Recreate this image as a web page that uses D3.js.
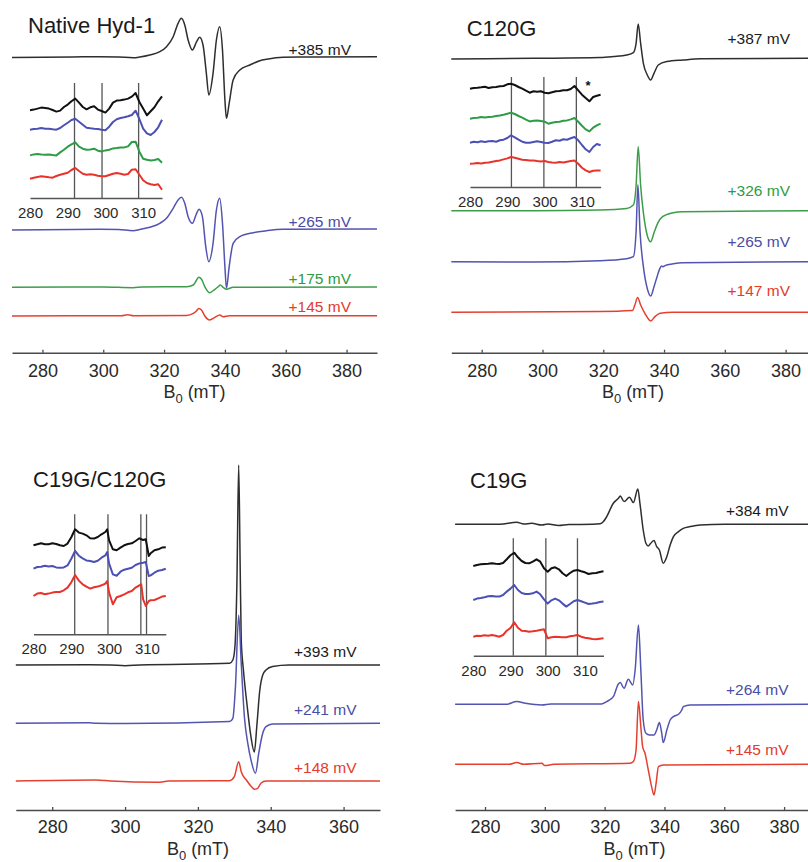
<!DOCTYPE html>
<html><head><meta charset="utf-8">
<script src="https://cdn.jsdelivr.net/npm/d3@7"></script>
<style>
body{margin:0;background:#fff}
svg{display:block}
text{font-family:"Liberation Sans",Arial,Helvetica,sans-serif}
</style>
</head><body>
<svg id="chart" width="808" height="862"></svg>
<script>
// ---------------- DATA ----------------
// Main spectra: [B0 (mT), signal (a.u.)]
const native385 = [[270,-0.5],[290,0],[298.8,0.3],[305,0],[309.8,-0.7],[312,0],[315.3,2],[318.6,5.3],[320.8,10.3],[323,20.3],[324.6,33.7],[325.7,38.7],[326.8,32],[327.9,17],[329.3,7],[330.7,15.3],[331.7,19.7],[332.8,12],[333.9,-16.3],[334.7,-38],[336.1,-16.3],[337.2,17],[338.3,30.3],[339.2,7],[340,-43],[340.5,-61.3],[341.4,-46.3],[342.7,-23],[344.9,-13],[348.2,-8],[351.5,-3.7],[353.7,-2.3],[359.1,-0.3],[370,0],[390,0.3]];
const native265 = [[270,-1],[290,-0.5],[298.8,-0.3],[305,-0.5],[309.8,-1.7],[312,-0.5],[315.3,1.7],[318.6,5.7],[320.8,10.7],[323,20.7],[324.6,29],[325.7,31.7],[326.8,25.7],[327.9,12.3],[329.3,5.7],[330.7,15.7],[331.5,19.7],[332.6,12.3],[333.7,-17.7],[334.7,-32.7],[336.1,-14.3],[337.2,19],[338.3,30.7],[339.2,5.7],[340,-37.7],[340.5,-59.3],[341.4,-37.7],[342.7,-14.3],[344.9,-7.7],[349.3,-3.7],[353.7,-1.7],[359.1,-0.3],[390,0]];
const native175 = [[270,-0.3],[300,0],[309.8,-0.7],[313,0],[327.4,0.3],[329.6,2],[330.7,7],[331.4,9.7],[332.3,7.7],[333.4,0.3],[335,-5.7],[336.7,-2.3],[337.8,0.3],[338.5,2],[339.4,-0.3],[340.5,-2.3],[342.7,-0.3],[390,0]];
const native145 = [[270,-0.3],[300,0],[306,0],[308,1],[310,0],[327.4,0.3],[329.6,2.3],[330.7,5],[331.4,7.3],[332.3,5.7],[333.4,-0.3],[335,-4.3],[336.7,-1.7],[338.3,0.7],[339.4,-1],[341.5,0],[390,0]];

const c120g387 = [[270,-0.7],[297,0],[318.9,0.7],[323.3,1.7],[327.7,3.3],[329.9,5.7],[330.8,15],[331.5,34.3],[332.3,15],[333.2,-5],[334.5,-16.7],[335.6,-21.7],[336.7,-15],[338.1,-6.7],[340.9,-3.3],[346.3,-1.7],[352,-0.5],[390,0]];
const c120g326 = [[270,0],[297,0],[318.9,0.7],[327.7,2.3],[329.9,5.7],[330.8,25],[331.5,64],[332.3,25],[333.2,-2],[334.5,-25],[335.6,-31],[336.7,-22],[337.9,-12.7],[339.5,-6],[343,-2],[346,-1],[390,0]];
const c120g265 = [[270,0],[297,-0.3],[318.9,1],[327.7,3],[329.9,5],[330.8,30],[331.4,77],[332.1,30],[333.2,-5],[334.5,-27],[335.6,-34.3],[336.7,-25],[337.7,-15],[338.5,-7.7],[339.2,-4.3],[339.6,-5],[340.5,-3.7],[342.7,-2.3],[346,-1],[390,0]];
const c120g147 = [[270,0],[318.9,0.7],[329.6,1.7],[330.4,7.3],[331.3,14.7],[332.3,7.3],[333.7,-1],[335.6,-8.7],[337,-4.3],[338.7,-1],[343,0],[390,0]];

const dbl393 = [[270,0],[290,0.3],[296,0],[300,-0.7],[304,0],[328.7,1.7],[329.6,5],[330.2,20],[330.7,80],[331.2,200],[331.6,100],[331.9,25],[332.5,-5],[333.5,-40],[334.5,-70],[335.5,-87],[336.2,-60],[337,-25],[337.8,-10],[338.7,-5],[340.5,-1.5],[345,0],[370,0]];
const dbl241 = [[270,0],[290,0.5],[292,0],[300,-0.3],[328.7,1.7],[329.6,5],[330.3,36],[331.2,108],[331.9,60],[332.8,5],[333.7,-20],[334.6,-37],[335.8,-50],[336.7,-30],[337.8,-10],[338.7,-3.3],[340.5,-0.7],[370,0]];
const dbl148 = [[270,0],[292,1],[296,0],[309,-1.3],[312,0],[328.7,0.3],[330,4.3],[331.2,19.3],[331.9,9.3],[333.3,1],[334.7,-5.7],[335.5,-8.3],[336.4,-7.3],[337.3,-2.3],[338.7,0],[370,0]];

const c19g384 = [[270,0],[285,0],[290.6,2],[293,0.3],[295.6,1],[299,-0.7],[301,0.3],[304.6,-1.3],[308,-0.3],[316,0],[318.5,0.5],[319.6,2.7],[320.7,7.7],[322.9,21],[324.6,26],[325.2,28.3],[326.5,22.7],[328.3,27],[329.6,21.7],[331.1,35.3],[331.8,21],[332.9,-5.7],[333.8,-19],[334.6,-21.7],[335.2,-19.7],[336.5,-16.3],[337.4,-22.3],[338.3,-25.7],[339.6,-39],[340.8,-32.3],[341.9,-20.7],[343,-12.3],[344.7,-7.3],[346.3,-4],[348.6,-2.3],[351.9,-0.7],[360,0],[390,0]];
const c19g264 = [[270,0],[287,0],[290.6,2.7],[293.5,1],[299,-0.7],[302,0.3],[318.9,0.3],[320.7,2.7],[322.9,7.7],[324.6,20.3],[325.2,21.7],[326.5,16],[327.9,25],[329.4,19.3],[330.2,34.3],[331.3,79.3],[332.1,34.3],[332.9,-15.7],[333.8,-29],[335,-30.7],[336.5,-30.7],[337.4,-25.7],[338.3,-18.3],[339.1,-29],[339.6,-38.3],[340.8,-25.7],[341.9,-15.7],[343,-12.3],[344.7,-10],[345.8,-5.7],[346.3,-2.3],[348.6,-0.7],[390,0]];
const c19g145 = [[270,0],[288,0],[290.6,1.7],[293,0],[299,1],[300,-1.3],[303,0],[328.5,1],[329.6,2.7],[330.5,14.3],[331.3,62.7],[332.1,37.7],[332.7,17.7],[333.5,11],[334.6,-5.7],[335.7,-22.3],[336.5,-30.7],[337.2,-19],[338,-2.3],[339.6,-0.7],[390,0]];

// Inset spectra (zoomed 280-315 mT), 1 mT grid
const insetField = [280,281,282,283,284,285,286,287,288,289,290,291,292,293,294,295,296,297,298,299,300,301,302,303,304,305,306,307,308,309,310,311,312,313,314,315];
const nativeIn385 = [0,0.7,1.7,2.7,2.3,1.7,0.3,-1.3,-0.3,3.3,5.7,9,11.7,7.7,3.3,1,3,4,0.7,-0.7,-2.3,1.7,7.7,9.7,10,10.7,11.7,13.7,17.3,8.3,1.7,-5,-1,3,9,14];
const nativeIn265 = [-0.7,0,0.3,1,0.3,0.3,-0.3,-0.7,1,3.7,6.3,9,10.3,7.3,4.3,1.3,0.7,0.3,0,-0.7,-1.3,2.3,7,9.7,11,11.7,12.7,14,18.3,10,0.3,-4.3,-6,-3,1.7,9.3];
const nativeIn175 = [-0.7,0.3,0.7,0.3,0,0.3,-0.3,-0.7,2.3,5,8,10.3,12.3,8,6,5,5.3,6,4,3.3,4.3,5,6.3,6.7,7.3,7.3,8.3,12.7,13,3,-4,-5,-5.7,-5.3,-4.3,-8];
const nativeIn145 = [-0.7,0.3,1,1.7,1.3,0.7,0.3,2,3.3,4.3,5.3,8,10,7,4.3,3.3,3.7,3.3,2.3,1.7,1.7,3,4.3,5,4.3,3.3,4,8.3,8.7,3.3,-2.3,-5,-6.3,-7,-6.3,-11.7];

const c120gIn387 = [-0.7,0,0.3,0.7,1.3,0,0.7,1,1.7,2,3.7,4.3,3,1,-0.7,-2.7,-4.7,-3.3,-3.7,-3.3,-4.7,-5.3,-4.3,-3.3,-3,-2.3,-2.3,-1,2,-2.3,-6.7,-10,-13.3,-9,-7.7,-6.7];
const c120gIn326 = [0,0.7,1,1.7,1.3,1.7,2,2.7,3.3,4,5,6,4.7,2.7,1,-1,-2.7,-2,-1.7,-2.3,-3,-5,-4,-3.3,-3,-2,-1.7,-0.7,0.7,-3,-7,-10.7,-12.7,-9,-6.7,-5];
const c120gIn265 = [-0.7,0.3,-0.3,0.7,0,0.7,1,0.3,1.7,2.3,4,6.7,4.7,2.3,0.3,-0.7,-0.7,0,0.7,0,-0.7,-1,0.3,1.7,1.3,2.7,2.3,3.7,5,1.7,-3,-7.3,-10,-5,-2,-3.3];
const c120gIn147 = [0,0.3,0.7,0.3,1,1.3,2,2.7,3.3,4.3,5.3,6.7,6,5,4,3.7,3.3,3.3,2.7,2.3,2.7,1.7,1.3,1,1.7,1.3,2,2.7,3.3,0,-4,-6.7,-8.3,-7,-6.7,-6.7];

const dblIn393 = [[280,0],[281,1],[282,2],[283,1],[284,1],[285,2],[286,1.3],[287,0],[288,-0.7],[289,1.7],[290,8],[291,16],[292,12.7],[293,11.7],[294,10],[295,7],[296,6.7],[297,8.3],[298,11],[299,13.3],[299.5,16],[300,5],[301,-4],[302,-5],[303,-2.3],[304,0],[305,1.3],[306,2],[307,4.3],[308,7],[309,5.3],[309.7,6],[310.5,-10.7],[311,-8],[312,-5],[313,-4],[314,-2.3],[315,-2]];
const dblIn241 = [[280,-1],[281,0.7],[282,1],[283,2],[284,1.3],[285,1.7],[286,0.3],[287,0],[288,0.3],[289,2.3],[290,9],[291,16.7],[292,12],[293,9.3],[294,7.3],[295,6.7],[296,5.7],[297,7],[298,10],[299,12.3],[299.5,15.7],[300,4],[301,-6.7],[302,-8],[303,-4],[304,-2],[305,-1],[306,0],[307,2.7],[308,4.3],[309,5],[309.7,5.7],[310.5,-8.3],[311,-7.7],[312,-5],[313,-3],[314,-2.3],[315,-1]];
const dblIn148 = [[280,-1.7],[281,0.7],[282,1.3],[283,0],[284,0.7],[285,1.7],[286,2.3],[287,2.3],[288,4],[289,6.7],[290,12],[291,19.3],[292,13.7],[293,10],[294,7.7],[295,5.7],[296,7],[297,7.7],[298,9],[299,10.7],[299.5,13.3],[300,1.7],[301,-10],[302,-3],[303,-1.7],[304,0],[305,2],[306,3.3],[307,6.7],[308,9],[308.5,10],[309,-5],[309.7,-11.7],[310.5,-6.7],[311,-6],[312,-5.7],[313,-4],[314,-2.3],[315,-1.7]];

const c19gIn384 = [0,1,1.7,2,2.3,2.7,2.3,2,3,6.7,10.7,13.3,8.7,5,3,2.7,4.3,6.7,4.3,-2.3,-5.7,-2.3,-1.3,-3.3,-7.3,-10,-7,-4.7,-4,-5.3,-6.3,-8,-7.3,-7,-6,-5.3];
const c19gIn264 = [-0.7,0.7,1.3,2,3,3.3,2.7,2.7,4.3,7.7,10.7,14.3,9.3,6.3,5.3,5.3,6,7.7,5,0,-4.3,-1,0.7,-1,-4.3,-7.3,-4.7,-2,-0.7,-2,-3.3,-4.7,-4.3,-3.7,-2.7,-2.3];
const c19gIn145 = [-0.7,0.3,0,0.7,0.3,1,0.3,-0.7,1,5.3,8,13.7,8.3,5.3,5,4.3,4.7,5.3,6,6.7,-2.3,-1.3,-0.7,-1,-1.3,-1.3,-0.3,0.3,1,-0.7,-1.7,-2.3,-3,-3.3,-2.7,-2.3];

// g-value marker lines in insets (mT)
const nativeMarks = [291.8, 299.1, 308.8];
const c120gMarks = [291.1, 299.8, 308.5];
const dblMarks = [290.9, 299.7, 308.4, 309.9];
const c19gMarks = [290.75, 299.5, 308];

// tick labels
const mainTicksWide = [280, 300, 320, 340, 360, 380];
const mainTicksNarrow = [280, 300, 320, 340, 360];
const insetTicks = [280, 290, 300, 310];

// potential labels
const nativeLabels = ["+385 mV", "+265 mV", "+175 mV", "+145 mV"];
const c120gLabels = ["+387 mV", "+326 mV", "+265 mV", "+147 mV"];
const dblLabels = ["+393 mV", "+241 mV", "+148 mV"];
const c19gLabels = ["+384 mV", "+264 mV", "+145 mV"];
const titles = ["Native Hyd-1", "C120G", "C19G/C120G", "C19G"];

// ---------------- STYLE ----------------
const lineCol = {k:"#2e2e2e", b:"#5254b0", g:"#3d9d4b", r:"#e5402f"};
const textCol = {k:"#1a1a1a", b:"#4a4ca6", g:"#2f9a42", r:"#e53a2a"};
const inCol = {k:"#111111", b:"#4b50b4", g:"#2e9c46", r:"#e8332b"};
const font = '"Liberation Sans",Arial,Helvetica,sans-serif';

const svg = d3.select("#chart");

function zipIn(vals){ return insetField.map((f,i)=>[f, vals[i]]); }

function drawPanel(cfg){
  const g = svg.append("g");
  const x = d3.scaleLinear().domain(cfg.domain).range(cfg.xRange);
  const y = d3.scaleLinear().domain([0, 400]).range([cfg.axisY, cfg.axisY - 400]);

  // axis
  const ax = d3.axisBottom(x).tickValues(cfg.ticks).tickSize(-3).tickSizeOuter(0).tickPadding(cfg.tickPad).tickFormat(d3.format("d"));
  const axg = g.append("g").attr("transform", `translate(0,${cfg.axisY})`).call(ax);
  axg.select(".domain").attr("stroke", "#4a4a4a").attr("stroke-width", 1.6);
  axg.selectAll(".tick line").attr("stroke", "#4a4a4a").attr("stroke-width", 1.3);
  axg.selectAll(".tick text").attr("font-size", 18).attr("font-family", font).attr("fill", "#2a2a2a");

  // axis label B0 (mT)
  const lab = g.append("text").attr("x", cfg.axLabelX).attr("y", cfg.axisY + 45)
    .attr("text-anchor", "middle").attr("font-size", 18).attr("fill", "#2a2a2a");
  lab.append("tspan").text("B");
  lab.append("tspan").attr("dy", 5).attr("font-size", 13).text("0");
  lab.append("tspan").attr("dy", -5).text(" (mT)");

  // title
  g.append("text").attr("x", cfg.titleX).attr("y", cfg.titleY).attr("font-size", 22)
    .attr("fill", "#1a1a1a").text(cfg.title);

  // traces
  const line = d3.line().x(d => x(d[0])).curve(d3.curveMonotoneX);
  cfg.traces.forEach(t => {
    line.y(d => y(d[1] + t.offset));
    g.append("path").datum(t.data).attr("d", line).attr("fill", "none")
      .attr("stroke", lineCol[t.c]).attr("stroke-width", 1.5).attr("stroke-linejoin", "round");
    g.append("text").attr("x", cfg.labelX).attr("y", t.ly).attr("text-anchor", "end")
      .attr("font-size", 15.5).attr("fill", textCol[t.c]).text(t.label);
  });

  // inset
  const ins = cfg.inset;
  const ig = g.append("g");
  const xi = d3.scaleLinear().domain([280, 315]).range(ins.xRange);
  const yi = d3.scaleLinear().domain([0, 100]).range([ins.axisY, ins.axisY - 100]);
  ig.selectAll("line.mark").data(ins.marks).enter().append("line")
    .attr("x1", d => xi(d)).attr("x2", d => xi(d)).attr("y1", ins.markTop).attr("y2", ins.axisY)
    .attr("stroke", "#555").attr("stroke-width", 1.3);
  const iax = d3.axisBottom(xi).tickValues(insetTicks).tickSize(0).tickSizeOuter(0).tickPadding(9.5).tickFormat(d3.format("d"));
  const iag = ig.append("g").attr("transform", `translate(0,${ins.axisY})`).call(iax);
  iag.select(".domain").attr("stroke", "#555").attr("stroke-width", 1.5);
  iag.selectAll(".tick text").attr("font-size", 15).attr("font-family", font).attr("fill", "#2a2a2a");
  const iline = d3.line().x(d => xi(d[0])).curve(d3.curveLinear);
  ins.traces.forEach(t => {
    iline.y(d => yi(d[1] + t.offset));
    ig.append("path").datum(t.data).attr("d", iline).attr("fill", "none")
      .attr("stroke", inCol[t.c]).attr("stroke-width", 2).attr("stroke-linejoin", "round");
  });
  if (ins.star) {
    ig.append("text").attr("x", ins.star[0]).attr("y", ins.star[1]).attr("text-anchor", "middle")
      .attr("font-size", 13).attr("font-weight", "bold").attr("fill", "#111").text("*");
  }
}

// Panel 1: Native Hyd-1
drawPanel({
  title: titles[0], titleX: 28, titleY: 32.7,
  domain: [270, 390], xRange: [12, 377], axisY: 352.7, ticks: mainTicksWide, tickPad: 11.2, axLabelX: 194.5,
  labelX: 351,
  traces: [
    {data: native385, c: "k", offset: 295.7, label: nativeLabels[0], ly: 55},
    {data: native265, c: "b", offset: 123.7, label: nativeLabels[1], ly: 226.7},
    {data: native175, c: "g", offset: 65.7, label: nativeLabels[2], ly: 284},
    {data: native145, c: "r", offset: 37, label: nativeLabels[3], ly: 312.3}
  ],
  inset: {
    xRange: [30, 162], axisY: 198, markTop: 83, marks: nativeMarks,
    traces: [
      {data: zipIn(nativeIn385), c: "k", offset: 87.7},
      {data: zipIn(nativeIn265), c: "b", offset: 69},
      {data: zipIn(nativeIn175), c: "g", offset: 43.3},
      {data: zipIn(nativeIn145), c: "r", offset: 20}
    ]
  }
});

// Panel 2: C120G
drawPanel({
  title: titles[1], titleX: 466.7, titleY: 36,
  domain: [270, 390], xRange: [451.3, 816], axisY: 352.7, ticks: mainTicksWide, tickPad: 11.2, axLabelX: 633,
  labelX: 790,
  traces: [
    {data: c120g387, c: "k", offset: 294.4, label: c120gLabels[0], ly: 44.3},
    {data: c120g326, c: "g", offset: 142, label: c120gLabels[1], ly: 196},
    {data: c120g265, c: "b", offset: 91, label: c120gLabels[2], ly: 246.7},
    {data: c120g147, c: "r", offset: 40.4, label: c120gLabels[3], ly: 296}
  ],
  inset: {
    xRange: [470, 600.6], axisY: 187, markTop: 77, marks: c120gMarks, star: [588, 90],
    traces: [
      {data: zipIn(c120gIn387), c: "k", offset: 99},
      {data: zipIn(c120gIn326), c: "g", offset: 68.3},
      {data: zipIn(c120gIn265), c: "b", offset: 45},
      {data: zipIn(c120gIn147), c: "r", offset: 23.3}
    ]
  }
});

// Panel 3: C19G/C120G
drawPanel({
  title: titles[2], titleX: 33, titleY: 486.5,
  domain: [270, 370], xRange: [15.8, 380], axisY: 810, ticks: mainTicksNarrow, tickPad: 10, axLabelX: 198,
  labelX: 356.5,
  traces: [
    {data: dbl393, c: "k", offset: 145, label: dblLabels[0], ly: 657.3},
    {data: dbl241, c: "b", offset: 86.7, label: dblLabels[1], ly: 715},
    {data: dbl148, c: "r", offset: 29, label: dblLabels[2], ly: 772.7}
  ],
  inset: {
    xRange: [33.5, 165.8], axisY: 634.3, markTop: 514.3, marks: dblMarks,
    traces: [
      {data: dblIn393, c: "k", offset: 89},
      {data: dblIn241, c: "b", offset: 66.6},
      {data: dblIn148, c: "r", offset: 40}
    ]
  }
});

// Panel 4: C19G
drawPanel({
  title: titles[3], titleX: 470, titleY: 487.5,
  domain: [270, 390], xRange: [455.1, 814], axisY: 810, ticks: mainTicksWide, tickPad: 10, axLabelX: 634.5,
  labelX: 788.5,
  traces: [
    {data: c19g384, c: "k", offset: 285.7, label: c19gLabels[0], ly: 515.7},
    {data: c19g264, c: "b", offset: 105.7, label: c19gLabels[1], ly: 695},
    {data: c19g145, c: "r", offset: 45.7, label: c19gLabels[2], ly: 755}
  ],
  inset: {
    xRange: [473.3, 603.5], axisY: 655.7, markTop: 538.3, marks: c19gMarks,
    traces: [
      {data: zipIn(c19gIn384), c: "k", offset: 89.7},
      {data: zipIn(c19gIn264), c: "b", offset: 56.4},
      {data: zipIn(c19gIn145), c: "r", offset: 19.7}
    ]
  }
});
</script>
</body></html>
